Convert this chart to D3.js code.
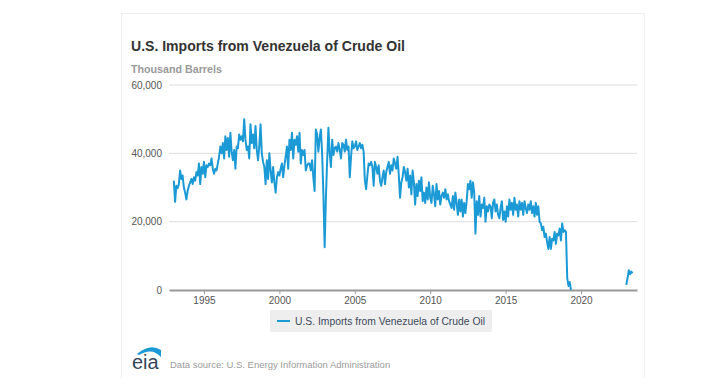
<!DOCTYPE html>
<html>
<head>
<meta charset="utf-8">
<script src="https://cdn.jsdelivr.net/npm/d3@7"></script>
<style>
  html, body { margin: 0; padding: 0; background: #fff; }
  svg { display: block; font-family: "Liberation Sans", Arial, sans-serif; }
</style>
</head>
<body>
<svg id="chart" width="720" height="378"></svg>
<script>
// ---- data (thousand barrels, monthly, starting Jan 1993) ----
const startYear = 1993;
const imports1993to1999 = [
  32000, 25800, 30500, 29800, 31000, 35000, 32500, 33500, 30000, 28500, 26500, 29000,
  30500, 31500, 32500, 31000, 33000, 32000, 34500, 33500, 37000, 31000, 36000, 34000,
  37500, 33000, 36500, 36000, 37000, 36500, 38500, 35500, 34000, 35500, 35000, 37000,
  39000, 42000, 40000, 43000, 38500, 45000, 41000, 44500, 39000, 46000, 40500, 38000,
  41000, 35500, 42000, 41500, 45500, 44000, 45000, 43500, 50000, 44000, 41000, 42000,
  38500, 48500, 43000, 45500, 41500, 48000, 41000, 38000, 42000, 48500, 40000, 37500,
  36000, 31000, 38000, 32500, 40000, 35000, 31500, 36000, 31500, 28500, 33000, 34500
];
const imports2000to2006 = [
  33500, 35500, 37000, 33000, 36500, 39000, 42000, 35500, 44000, 41000, 46000, 38500,
  44000, 42500, 45000, 40500, 46000, 37000, 41000, 39500, 41000, 35000, 36500, 37000,
  37000, 35000, 38000, 33000, 29000, 47000, 45500, 40500, 44500, 47000, 40000, 28000,
  12500, 27000, 38000, 47500, 40000, 36000, 44000, 39500, 41500, 42000, 40500, 43000,
  41000, 38500, 43000, 42500, 40500, 44000, 41000, 42000, 33000, 39000, 43500, 41500,
  42000, 43500, 41000, 42000, 43000, 41500, 42500, 40500, 32000, 29500, 33500, 37000,
  36500, 37500, 36000, 30500, 37500, 36000, 34000, 36500, 32000, 30500, 33000, 35000
];
const imports2007to2013 = [
  31000, 34500, 36000, 37500, 34000, 36500, 35000, 38500, 37000, 35500, 39000, 33500,
  27000, 31500, 33000, 36000, 34500, 32000, 35500, 30000, 33500, 28000, 35000, 31500,
  25000, 31000, 27500, 32000, 29000, 33000, 26000, 28500, 25500, 30000, 26500, 31500,
  27000, 25500, 30500, 28000, 24500, 31000, 26500, 29000, 25000, 27500, 28500, 27000,
  29500, 26500, 28000, 26000, 25000, 24000, 27500, 23500, 28500, 25500, 22000, 26500,
  23000, 26500, 21500, 25500, 22500, 26000, 31000, 29500, 32000, 27000, 31500, 28500,
  16500, 26000, 22000, 27500, 21500, 25000, 24000, 27000, 20000, 24500, 23000, 25000
];
const imports2014to2019 = [
  24500, 21000, 25500, 26500, 23000, 25000, 22000, 21000, 24000, 26000, 20500, 23000,
  20000, 24500, 21500, 26500, 23500, 25500, 22000, 27000, 23500, 25000, 21500, 26000,
  23500, 25500, 22000, 26000, 24000, 22500, 25000, 23500, 26000, 22500, 24500, 21500,
  25500, 22000, 24500, 20000, 19500, 17500, 18500, 15500, 16500, 14000, 12000, 15500,
  12000, 15000, 14500, 17000, 13500, 16500, 16000, 18000, 14500, 19500, 17000, 17500,
  17000, 3500, 1200, 2300, 0, null, null, null, null, null, null, null
];
const imports2020to2023 = [
  null, null, null, null, null, null, null, null, null, null, null, null,
  null, null, null, null, null, null, null, null, null, null, null, null,
  null, null, null, null, null, null, null, null, null, null, null, null,
  1500, 3500, 5800, 4600, 5400, 4900
];
const yTicks = [0, 20000, 40000, 60000];
const xTickYears = [1995, 2000, 2005, 2010, 2015, 2020];
const titleText = "U.S. Imports from Venezuela of Crude Oil";
const unitText = "Thousand Barrels";
const legendText = "U.S. Imports from Venezuela of Crude Oil";
const sourceText = "Data source: U.S. Energy Information Administration";

const monthly = [].concat(imports1993to1999, imports2000to2006, imports2007to2013, imports2014to2019, imports2020to2023)
  .map((v, i) => ({ t: startYear + i / 12, v }));

// ---- layout ----
const svg = d3.select("#chart");
const lineColor = "#1b9ad6";

// faint outer frame
svg.append("rect").attr("x", 121.5).attr("y", 13.5).attr("width", 523).attr("height", 400)
  .attr("fill", "none").attr("stroke", "#eeeeee").attr("stroke-width", 1);

const x = d3.scaleLinear().domain([1992.68, 2023.71]).range([169, 637]);
const y = d3.scaleLinear().domain([0, 60000]).range([290, 85]);

// title (fit to measured width)
function fitText(sel, width) {
  const w = sel.node().getComputedTextLength();
  const fs = parseFloat(sel.attr("font-size"));
  sel.attr("font-size", (fs * width / w).toFixed(2));
}
const title = svg.append("text").attr("x", 131).attr("y", 51)
  .attr("font-size", 15).attr("font-weight", "bold").attr("fill", "#333")
  .text(titleText);
fitText(title, 274);

const unit = svg.append("text").attr("x", 131).attr("y", 73)
  .attr("font-size", 10.5).attr("font-weight", "bold").attr("fill", "#9a9a9a")
  .text(unitText);
fitText(unit, 91);

// gridlines
const yAxis = d3.axisLeft(y).tickValues(yTicks).tickSize(0).tickPadding(7)
  .tickFormat(d3.format(","));
const gy = svg.append("g").attr("transform", "translate(169,0)").call(yAxis);
gy.select(".domain").remove();
gy.selectAll("text").attr("font-size", 10).attr("fill", "#555").attr("font-family", "Liberation Sans, Arial, sans-serif");
gy.selectAll(".tick line").remove();
svg.append("g").selectAll("line").data(yTicks.filter(d => d > 0)).join("line")
  .attr("x1", 169).attr("x2", 637)
  .attr("y1", d => y(d)).attr("y2", d => y(d))
  .attr("stroke", "#dcdcdc").attr("stroke-width", 1);

// x axis
const xAxis = d3.axisBottom(x).tickValues(xTickYears).tickFormat(d3.format("d"))
  .tickSize(4).tickSizeOuter(0).tickPadding(3);
const gx = svg.append("g").attr("transform", "translate(0,290)").call(xAxis);
gx.select(".domain").attr("stroke", "#999").attr("stroke-width", 2);
gx.selectAll(".tick line").attr("stroke", "#999");
gx.selectAll("text").attr("font-size", 10).attr("fill", "#555").attr("font-family", "Liberation Sans, Arial, sans-serif");

// series line
const line = d3.line().defined(d => d.v !== null)
  .x(d => x(d.t)).y(d => y(d.v));
svg.append("path").datum(monthly)
  .attr("d", line).attr("fill", "none")
  .attr("stroke", lineColor).attr("stroke-width", 2).attr("stroke-linejoin", "round");

// legend
const lg = svg.append("g");
lg.append("rect").attr("x", 270).attr("y", 310).attr("width", 222).attr("height", 22)
  .attr("fill", "#eeeeee");
lg.append("line").attr("x1", 277).attr("x2", 290).attr("y1", 321).attr("y2", 321)
  .attr("stroke", lineColor).attr("stroke-width", 2);
const lt = lg.append("text").attr("x", 295).attr("y", 325).attr("font-size", 11)
  .attr("fill", "#3d4a5a").text(legendText);
fitText(lt, 190);

// eia logo
const logo = svg.append("g");
logo.append("text").attr("x", 132).attr("y", 369).attr("font-size", 20)
  .attr("font-family", "Liberation Sans, Arial, sans-serif")
  .attr("fill", "#33475b").text("eia");
logo.append("path").attr("d", "M137,354 Q150,343 161,350 L161,357 Q152,347 139,355 Z")
  .attr("fill", "#1b9ad6");

svg.append("text").attr("x", 170).attr("y", 368).attr("font-size", 9.5)
  .attr("fill", "#9a9a9a").text(sourceText);
</script>
</body>
</html>
